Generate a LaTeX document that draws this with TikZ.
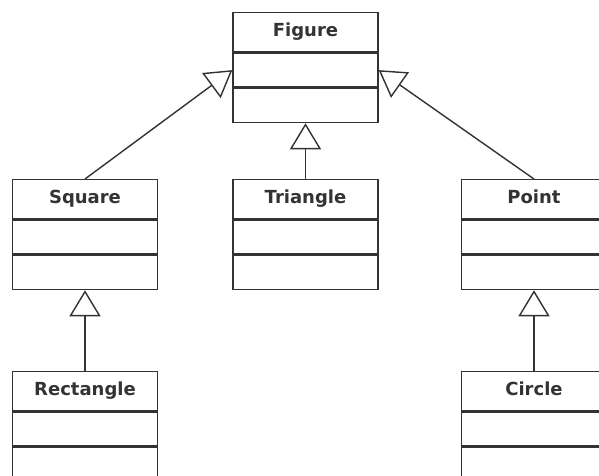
\documentclass[tikz,border=0pt]{standalone}
\usepackage{fontspec}
\setmainfont{DejaVu Sans}
\usetikzlibrary{arrows.meta}
\definecolor{dark-gray}{gray}{0.2}
\tikzstyle{classtitle}=[draw=dark-gray,line width=1pt,fill=white,minimum width=3.625cm,minimum height=0.975cm,inner sep=0pt,text height=1.6ex,text depth=0.45ex,text=dark-gray,font=\bfseries\fontsize{12.8}{15}\selectfont]
\tikzstyle{classpart}=[draw=dark-gray,line width=1pt,fill=white,minimum width=3.625cm,minimum height=0.85cm,inner sep=0pt]
\tikzstyle{inherit}=[draw=dark-gray,line width=1pt,-{Triangle[open,length=0.65cm,width=0.775cm,fill=white]}]
\newcommand{\umlclass}[4]{% name, x, top y, title
  \node[classtitle,anchor=north] (#1) at (#2,#3) {#4};
  \node[classpart,anchor=north] (#1-a) at (#1.south) {};
  \node[classpart,anchor=north] (#1-m) at (#1-a.south) {};
}
\begin{document}
\begin{tikzpicture}[x=0.025cm,y=-0.025cm]
	\useasboundingbox (0,0) rectangle (599,475);
	\clip (0,0) rectangle (599,475);
	\umlclass{figure}{305.5}{12}{Figure}
	\umlclass{square}{85}{179}{Square}
	\umlclass{triangle}{305.5}{179}{Triangle}
	\umlclass{point}{534}{179}{Point}
	\umlclass{rectangle}{85}{371}{Rectangle}
	\umlclass{circle}{534}{371}{Circle}
	% generalisations
	\draw[inherit] (square.north) -- (figure-a.west);
	\draw[inherit] (triangle.north) -- (figure-m.south);
	\draw[inherit] (point.north) -- (figure-a.east);
	\draw[inherit] (rectangle.north) -- (square-m.south);
	\draw[inherit] (circle.north) -- (point-m.south);
\end{tikzpicture}
\end{document}
